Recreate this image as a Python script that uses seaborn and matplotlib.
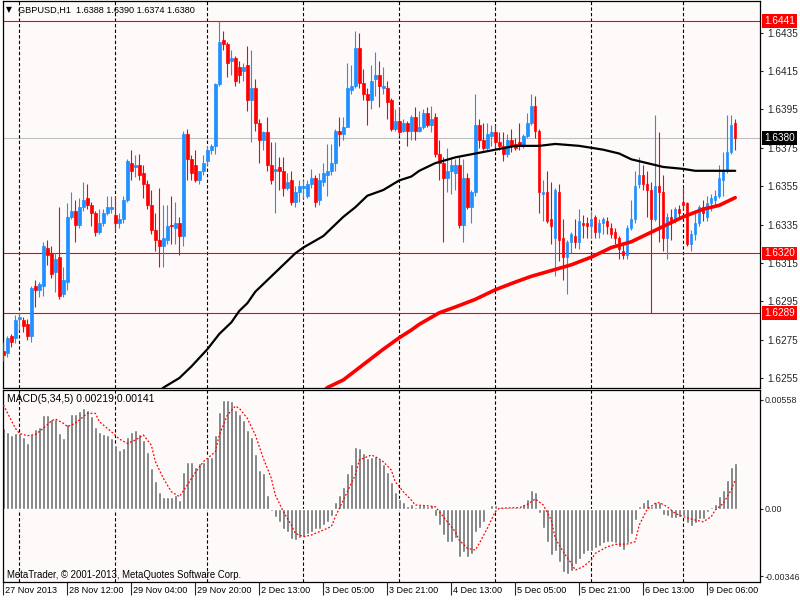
import numpy as np
import matplotlib
matplotlib.use("Agg")
import matplotlib.pyplot as plt
import matplotlib.transforms as mtransforms
import seaborn as sns

# --- GBPUSD H1 candles, bar 0 = oldest ---
open_ = [1.6269, 1.6268, 1.6277, 1.6276, 1.6286, 1.6285, 1.6283, 1.6277, 1.6303, 1.6301,
         1.6303, 1.6323, 1.6320, 1.6310, 1.6318, 1.6299, 1.6305, 1.6339, 1.6342, 1.6335,
         1.6344, 1.6349, 1.6345, 1.6341, 1.6331, 1.6336, 1.6341, 1.6343, 1.6340, 1.6336,
         1.6338, 1.6348, 1.6367, 1.6365, 1.6366, 1.6362, 1.6356, 1.6345, 1.6332, 1.6327,
         1.6324, 1.6327, 1.6335, 1.6333, 1.6336, 1.6329, 1.6382, 1.6369, 1.6366, 1.6358,
         1.6363, 1.6368, 1.6374, 1.6376, 1.6408, 1.6431, 1.6429, 1.6420, 1.6422, 1.6417,
         1.6415, 1.6418, 1.6400, 1.6406, 1.6388, 1.6379, 1.6383, 1.6366, 1.6363, 1.6365,
         1.6363, 1.6354, 1.6358, 1.6347, 1.6352, 1.6354, 1.6350, 1.6356, 1.6359, 1.6348,
         1.6357, 1.6361, 1.6363, 1.6367, 1.6384, 1.6382, 1.6386, 1.6405, 1.6407, 1.6427,
         1.6409, 1.6403, 1.6400, 1.6411, 1.6413, 1.6406, 1.6406, 1.6400, 1.6385, 1.6389,
         1.6384, 1.6388, 1.6384, 1.6391, 1.6384, 1.6386, 1.6393, 1.6387, 1.6391, 1.6372,
         1.6367, 1.6359, 1.6363, 1.6362, 1.6366, 1.6335, 1.6359, 1.6344, 1.6352, 1.6387,
         1.6379, 1.6375, 1.6381, 1.6383, 1.6378, 1.6376, 1.6372, 1.6379, 1.6377, 1.6378,
         1.6376, 1.6381, 1.6388, 1.6397, 1.6384, 1.6351, 1.6352, 1.6338, 1.6328, 1.6352,
         1.6328, 1.6318, 1.6326, 1.6329, 1.6326, 1.6336, 1.6336, 1.6334, 1.6339, 1.6331,
         1.6336, 1.6337, 1.6333, 1.6331, 1.6328, 1.6321, 1.6319, 1.6333, 1.6338, 1.6356,
         1.6361, 1.6356, 1.6353, 1.6338, 1.6355, 1.6352, 1.6328, 1.6339, 1.6337, 1.6343,
         1.6347, 1.6346, 1.6325, 1.6330, 1.6336, 1.6344, 1.6339, 1.6346, 1.6348, 1.6350,
         1.6358, 1.6363, 1.6373, 1.6388]
high = [1.6274, 1.6277, 1.6278, 1.6288, 1.6289, 1.6287, 1.6286, 1.6303, 1.6306, 1.6305,
        1.6326, 1.6327, 1.6324, 1.6320, 1.6344, 1.6313, 1.6346, 1.6352, 1.6348, 1.6349,
        1.6357, 1.6356, 1.6347, 1.6342, 1.6343, 1.6343, 1.6350, 1.6350, 1.6350, 1.6341,
        1.6350, 1.6369, 1.6374, 1.6371, 1.6372, 1.6366, 1.6358, 1.6353, 1.6341, 1.6354,
        1.6345, 1.6345, 1.6350, 1.6347, 1.6339, 1.6384, 1.6385, 1.6371, 1.6374, 1.6363,
        1.6371, 1.6376, 1.6377, 1.6409, 1.6441, 1.6436, 1.6430, 1.6426, 1.6423, 1.6420,
        1.6419, 1.6428, 1.6426, 1.6411, 1.6390, 1.6384, 1.6391, 1.6378, 1.6378, 1.6370,
        1.6370, 1.6362, 1.6363, 1.6355, 1.6358, 1.6358, 1.6358, 1.6364, 1.6361, 1.6362,
        1.6367, 1.6377, 1.6377, 1.6385, 1.6391, 1.6391, 1.6419, 1.6418, 1.6436, 1.6435,
        1.6416, 1.6406, 1.6418, 1.6425, 1.6420, 1.6417, 1.6410, 1.6401, 1.6395, 1.6396,
        1.6390, 1.6389, 1.6392, 1.6396, 1.6394, 1.6395, 1.6396, 1.6397, 1.6393, 1.6379,
        1.6370, 1.6375, 1.6370, 1.6369, 1.6370, 1.6369, 1.6362, 1.6353, 1.6403, 1.6390,
        1.6388, 1.6388, 1.6387, 1.6387, 1.6383, 1.6383, 1.6382, 1.6385, 1.6380, 1.6388,
        1.6382, 1.6393, 1.6403, 1.6402, 1.6385, 1.6358, 1.6363, 1.6357, 1.6354, 1.6356,
        1.6338, 1.6327, 1.6331, 1.6338, 1.6343, 1.6340, 1.6339, 1.6342, 1.6340, 1.6338,
        1.6339, 1.6339, 1.6336, 1.6333, 1.6329, 1.6326, 1.6335, 1.6348, 1.6363, 1.6370,
        1.6366, 1.6363, 1.6357, 1.6392, 1.6383, 1.6361, 1.6341, 1.6343, 1.6344, 1.6345,
        1.6354, 1.6347, 1.6332, 1.6341, 1.6345, 1.6348, 1.6350, 1.6351, 1.6353, 1.6366,
        1.6373, 1.6392, 1.6392, 1.6390]
low = [1.6264, 1.6266, 1.6271, 1.6273, 1.6280, 1.6279, 1.6275, 1.6274, 1.6292, 1.6297,
       1.6298, 1.6314, 1.6307, 1.6300, 1.6296, 1.6297, 1.6301, 1.6338, 1.6326, 1.6333,
       1.6342, 1.6343, 1.6334, 1.6329, 1.6330, 1.6334, 1.6340, 1.6341, 1.6331, 1.6333,
       1.6336, 1.6347, 1.6358, 1.6360, 1.6358, 1.6349, 1.6343, 1.6330, 1.6321, 1.6313,
       1.6313, 1.6325, 1.6325, 1.6325, 1.6319, 1.6324, 1.6358, 1.6358, 1.6357, 1.6356,
       1.6361, 1.6366, 1.6372, 1.6372, 1.6407, 1.6426, 1.6412, 1.6413, 1.6407, 1.6409,
       1.6410, 1.6394, 1.6378, 1.6384, 1.6367, 1.6374, 1.6363, 1.6356, 1.6341, 1.6353,
       1.6350, 1.6353, 1.6345, 1.6344, 1.6347, 1.6349, 1.6349, 1.6354, 1.6344, 1.6345,
       1.6355, 1.6350, 1.6361, 1.6363, 1.6376, 1.6379, 1.6386, 1.6403, 1.6406, 1.6406,
       1.6400, 1.6387, 1.6395, 1.6402, 1.6396, 1.6403, 1.6390, 1.6384, 1.6384, 1.6381,
       1.6383, 1.6376, 1.6379, 1.6379, 1.6383, 1.6385, 1.6386, 1.6383, 1.6370, 1.6358,
       1.6326, 1.6352, 1.6351, 1.6353, 1.6333, 1.6326, 1.6343, 1.6336, 1.6350, 1.6375,
       1.6374, 1.6374, 1.6376, 1.6375, 1.6374, 1.6368, 1.6370, 1.6373, 1.6374, 1.6374,
       1.6375, 1.6380, 1.6387, 1.6380, 1.6341, 1.6337, 1.6336, 1.6325, 1.6308, 1.6316,
       1.6306, 1.6299, 1.6320, 1.6323, 1.6322, 1.6328, 1.6328, 1.6328, 1.6328, 1.6328,
       1.6330, 1.6330, 1.6328, 1.6325, 1.6317, 1.6317, 1.6317, 1.6332, 1.6336, 1.6354,
       1.6353, 1.6339, 1.6289, 1.6337, 1.6326, 1.6321, 1.6317, 1.6327, 1.6336, 1.6338,
       1.6343, 1.6324, 1.6321, 1.6327, 1.6334, 1.6337, 1.6337, 1.6342, 1.6345, 1.6349,
       1.6350, 1.6362, 1.6372, 1.6374]
close_ = [1.6267, 1.6276, 1.6274, 1.6285, 1.6287, 1.6282, 1.6277, 1.6302, 1.6301, 1.6304,
          1.6324, 1.6319, 1.6309, 1.6317, 1.6298, 1.6306, 1.6339, 1.6342, 1.6335, 1.6344,
          1.6348, 1.6345, 1.6341, 1.6331, 1.6336, 1.6341, 1.6344, 1.6344, 1.6336, 1.6338,
          1.6348, 1.6368, 1.6363, 1.6366, 1.6361, 1.6356, 1.6345, 1.6332, 1.6327, 1.6324,
          1.6328, 1.6334, 1.6334, 1.6336, 1.6329, 1.6382, 1.6369, 1.6362, 1.6358, 1.6363,
          1.6367, 1.6374, 1.6376, 1.6408, 1.6430, 1.6429, 1.6419, 1.6422, 1.6410, 1.6413,
          1.6417, 1.6400, 1.6406, 1.6388, 1.6379, 1.6383, 1.6366, 1.6358, 1.6364, 1.6363,
          1.6354, 1.6357, 1.6347, 1.6352, 1.6355, 1.6355, 1.6356, 1.6359, 1.6347, 1.6358,
          1.6362, 1.6363, 1.6367, 1.6384, 1.6382, 1.6386, 1.6406, 1.6407, 1.6427, 1.6409,
          1.6403, 1.6400, 1.6410, 1.6413, 1.6407, 1.6407, 1.6399, 1.6385, 1.6389, 1.6383,
          1.6388, 1.6384, 1.6391, 1.6384, 1.6386, 1.6393, 1.6387, 1.6390, 1.6372, 1.6367,
          1.6359, 1.6363, 1.6366, 1.6366, 1.6335, 1.6359, 1.6344, 1.6352, 1.6387, 1.6379,
          1.6375, 1.6382, 1.6383, 1.6378, 1.6376, 1.6372, 1.6379, 1.6376, 1.6375, 1.6376,
          1.6381, 1.6388, 1.6397, 1.6384, 1.6352, 1.6352, 1.6337, 1.6334, 1.6353, 1.6327,
          1.6318, 1.6326, 1.6330, 1.6326, 1.6337, 1.6335, 1.6334, 1.6338, 1.6331, 1.6336,
          1.6338, 1.6334, 1.6330, 1.6328, 1.6322, 1.6319, 1.6333, 1.6338, 1.6355, 1.6361,
          1.6356, 1.6353, 1.6338, 1.6355, 1.6352, 1.6328, 1.6339, 1.6337, 1.6343, 1.6341,
          1.6345, 1.6325, 1.6330, 1.6336, 1.6344, 1.6341, 1.6346, 1.6349, 1.6350, 1.6359,
          1.6363, 1.6373, 1.6387, 1.6380]

# moving averages read at selected bars
ma_black_bar = [39, 40, 44, 47, 51, 54, 57, 59, 61, 63, 66, 68, 71, 73, 75, 80, 82, 85, 88, 91,
                95, 99, 102, 104, 108, 113, 118, 123, 128, 134, 138, 144, 150, 154, 157, 161,
                165, 170, 173, 183]
ma_black = [1.6248, 1.6250, 1.6255, 1.6261, 1.6270, 1.6278, 1.6284, 1.6290, 1.6294, 1.6300,
            1.6306, 1.6310, 1.6316, 1.6320, 1.6323, 1.6329, 1.6333, 1.6339, 1.6344, 1.6350,
            1.6353, 1.6358, 1.6360, 1.6363, 1.6367, 1.6370, 1.6372, 1.6374, 1.6376, 1.6376,
            1.6377, 1.6376, 1.6374, 1.6372, 1.6369, 1.6367, 1.6365, 1.6364, 1.6363, 1.6363]
ma_red_bar = [80, 81, 85, 90, 95, 99, 102, 104, 109, 113, 118, 123, 128, 132, 137, 142, 147,
              152, 157, 161, 164, 167, 170, 175, 179, 183]
ma_red = [1.6248, 1.6250, 1.6254, 1.6262, 1.6270, 1.6276, 1.6280, 1.6283, 1.6289, 1.6292,
          1.6296, 1.6301, 1.6305, 1.6308, 1.6311, 1.6314, 1.6318, 1.6323, 1.6326, 1.6330,
          1.6333, 1.6336, 1.6339, 1.6343, 1.6345, 1.6349]

# MACD(5,34,5) histogram, one value per bar
macd = [0.00412, 0.00395, 0.00378, 0.00386, 0.00386, 0.00369, 0.00335, 0.00381, 0.00407, 0.00419,
        0.00480, 0.00480, 0.00458, 0.00458, 0.00386, 0.00364, 0.00432, 0.00484, 0.00484, 0.00501,
        0.00515, 0.00506, 0.00475, 0.00419, 0.00395, 0.00381, 0.00378, 0.00364, 0.00326, 0.00301,
        0.00309, 0.00369, 0.00395, 0.00403, 0.00381, 0.00352, 0.00292, 0.00207, 0.00142, 0.00087,
        0.00058, 0.00058, 0.00058, 0.00070, 0.00044, 0.00186, 0.00238, 0.00241, 0.00215, 0.00236,
        0.00241, 0.00267, 0.00267, 0.00378, 0.00497, 0.00557, 0.00557, 0.00552, 0.00506, 0.00485,
        0.00455, 0.00403, 0.00369, 0.00280, 0.00198, 0.00181, 0.00070, -0.00010, -0.00041, -0.00067,
        -0.00104, -0.00118, -0.00156, -0.00161, -0.00152, -0.00144, -0.00132, -0.00118, -0.00104, -0.00106,
        -0.00084, -0.00067, -0.00038, 0.00036, 0.00070, 0.00113, 0.00181, 0.00229, 0.00315, 0.00309,
        0.00284, 0.00258, 0.00267, 0.00272, 0.00255, 0.00229, 0.00186, 0.00138, 0.00084, 0.00050,
        0.00036, 0.00015, 0.00026, 0.00010, 0.00019, 0.00019, 0.00015, 0.00019, -0.00036, -0.00084,
        -0.00135, -0.00173, -0.00173, -0.00152, -0.00246, -0.00221, -0.00246, -0.00234, -0.00118, -0.00097,
        -0.00070, -0.00005, 0.00019, 0.00019, 0.00010, 0.00007, 0.00010, 0.00007, 0.00007, 0.00010,
        0.00024, 0.00050, 0.00096, 0.00087, -0.00024, -0.00097, -0.00173, -0.00238, -0.00217, -0.00272,
        -0.00323, -0.00333, -0.00320, -0.00284, -0.00258, -0.00234, -0.00215, -0.00215, -0.00203, -0.00190,
        -0.00174, -0.00169, -0.00169, -0.00174, -0.00195, -0.00212, -0.00174, -0.00130, -0.00058, 0.00015,
        0.00036, 0.00050, 0.00015, 0.00036, 0.00036, -0.00032, -0.00036, -0.00046, -0.00046, -0.00041,
        -0.00038, -0.00075, -0.00089, -0.00075, -0.00053, -0.00053, -0.00019, 0.00010, 0.00022, 0.00067,
        0.00096, 0.00147, 0.00215, 0.00236]
signal_bar = [0, 3, 4, 6, 8, 10, 12, 13, 15, 16, 18, 21, 23, 24, 27, 29, 31, 33, 35, 37, 38, 40,
              42, 44, 45, 48, 50, 53, 54, 56, 58, 59, 61, 63, 65, 67, 68, 70, 72, 73, 75, 77, 79,
              82, 83, 85, 88, 89, 92, 93, 95, 97, 98, 100, 102, 103, 106, 108, 109, 111, 113, 114,
              116, 118, 119, 121, 123, 124, 127, 129, 131, 133, 135, 137, 138, 140, 142, 143, 145,
              147, 148, 151, 153, 156, 158, 159, 161, 163, 164, 166, 168, 170, 173, 175, 177, 178,
              180, 182, 183]
signal = [0.00532, 0.00412, 0.00386, 0.00374, 0.00381, 0.00412, 0.00450, 0.00460, 0.00438, 0.00421,
          0.00438, 0.00489, 0.00489, 0.00446, 0.00395, 0.00357, 0.00335, 0.00352, 0.00378, 0.00326,
          0.00241, 0.00156, 0.00087, 0.00062, 0.00091, 0.00186, 0.00241, 0.00292, 0.00378, 0.00480,
          0.00526, 0.00515, 0.00463, 0.00378, 0.00258, 0.00156, 0.00070, -0.00015, -0.00084, -0.00126,
          -0.00144, -0.00135, -0.00118, -0.00092, -0.00041, 0.00044, 0.00173, 0.00250, 0.00275, 0.00267,
          0.00241, 0.00198, 0.00138, 0.00087, 0.00044, 0.00019, 0.00015, 0.00010, -0.00015, -0.00067,
          -0.00118, -0.00161, -0.00203, -0.00212, -0.00178, -0.00101, -0.00015, 0.00002, 0.00005, 0.00005,
          0.00022, 0.00050, 0.00019, -0.00058, -0.00152, -0.00221, -0.00280, -0.00315, -0.00297, -0.00263,
          -0.00229, -0.00195, -0.00183, -0.00181, -0.00169, -0.00084, -0.00002, 0.00027, 0.00032, 0.00010,
          -0.00024, -0.00041, -0.00058, -0.00067, -0.00041, -0.00007, 0.00027, 0.00096, 0.00147]

# levels, axis labels, time axis
price_ticks = [1.6435, 1.6415, 1.6395, 1.6375, 1.6355, 1.6335, 1.6315, 1.6295, 1.6275, 1.6255]
red_levels = [1.6441, 1.6320, 1.6289]
last_price = 1.6380
macd_ticks = [0.00558, 0.0, -0.00346]
macd_tick_labels = ["0.00558", "0.00", "-0.00346"]
grid_bars = [4, 28, 51, 75, 99, 123, 147, 170]
time_bars = [0, 16, 32, 48, 64, 80, 96, 112, 128, 144, 160, 176]
time_labels = ["27 Nov 2013", "28 Nov 12:00", "29 Nov 04:00", "29 Nov 20:00", "2 Dec 13:00",
               "3 Dec 05:00", "3 Dec 21:00", "4 Dec 13:00", "5 Dec 05:00", "5 Dec 21:00",
               "6 Dec 13:00", "9 Dec 06:00"]

sns.set_style("white")
plt.rcParams['font.family'] = ['Liberation Sans', 'DejaVu Sans']

W, H = 800, 600
fig = plt.figure(figsize=(8, 6), dpi=100, facecolor='white')
ax1 = fig.add_axes([3 / W, 1 - 388 / H, 757 / W, 387 / H])
ax2 = fig.add_axes([3 / W, 1 - 582 / H, 757 / W, 192 / H])
for ax in (ax1, ax2):
    ax.set_facecolor('#FFFAFA')
    for s in ax.spines.values():
        s.set_color('black')
        s.set_linewidth(0.9)
    for b in grid_bars:
        ax.axvline(b, color='black', lw=0.8, ls=(0, (3, 2)), zorder=1)

# candles
bars = np.arange(len(close_))
o = np.array(open_)
c = np.array(close_)
colors = np.where(c >= o, '#1E90FF', '#FF0000')
ax1.vlines(bars, low, high, colors=colors, linewidth=0.8, zorder=3)
ax1.bar(bars, np.abs(c - o), bottom=np.minimum(o, c), width=0.62, color=colors,
        edgecolor=colors, linewidth=0.5, zorder=3)

# level lines
ax1.axhline(last_price, color='#C0C0C0', lw=0.8, zorder=0.5)
for lv in red_levels:
    ax1.axhline(lv, color='#FF0000', lw=0.8, zorder=2)

# moving averages
sns.lineplot(x=ma_black_bar, y=ma_black, ax=ax1, color='black', linewidth=1.6, zorder=4)
sns.lineplot(x=ma_red_bar, y=ma_red, ax=ax1, color='#FF0000', linewidth=2.6, zorder=4)

ax1.set_xlim(-0.1, 189.2)
ax1.set_ylim(1.62498, 1.64515)
ax1.set_xlabel('')
ax1.set_ylabel('')
ax1.set_xticks([])
ax1.yaxis.tick_right()
ax1.set_yticks(price_ticks)
ax1.set_yticklabels([f"{v:.4f}" for v in price_ticks])
ax1.tick_params(axis='y', length=2.5, width=0.8, pad=3, labelsize=7.2, direction='out', right=True)

ytr = ax1.get_yaxis_transform()
for lv in red_levels:
    ax1.text(1.0055, lv, f"{lv:.4f}", transform=ytr, ha='left', va='center', fontsize=7.2,
             color='white', zorder=6,
             bbox=dict(facecolor='#FF0000', edgecolor='none', boxstyle='square,pad=0.18'))
ax1.text(1.0055, last_price, f"{last_price:.4f}", transform=ytr, ha='left', va='center',
         fontsize=7.2, color='white', zorder=6,
         bbox=dict(facecolor='black', edgecolor='none', boxstyle='square,pad=0.18'))

# MACD panel
sns.barplot(x=bars, y=macd, native_scale=True, color='#6E6E6E', saturation=1, width=0.72,
            errorbar=None, ax=ax2, zorder=2)
sns.lineplot(x=signal_bar, y=signal, ax=ax2, color='#FF0000', linewidth=0.9,
             linestyle=(0, (1.5, 1.5)), zorder=3)
ax2.set_xlim(-0.1, 189.2)
ax2.set_ylim(-0.003759, 0.006087)
ax2.set_xlabel('')
ax2.set_ylabel('')
ax2.yaxis.tick_right()
ax2.set_yticks(macd_ticks)
ax2.set_yticklabels(macd_tick_labels)
ax2.tick_params(axis='y', length=2.5, width=0.8, pad=0.8, labelsize=6.4, direction='out', right=True)
ax2.set_xticks(time_bars)
ax2.set_xticklabels([])
ax2.tick_params(axis='x', length=9, width=0.8, direction='out', bottom=True)
xtr = ax2.get_xaxis_transform() + mtransforms.ScaledTranslation(1.5 / 72, 0, fig.dpi_scale_trans)
for b, lab in zip(time_bars, time_labels):
    ax2.text(b, -0.02, lab, transform=xtr, ha='left', va='top', fontsize=6.6, color='black',
             clip_on=False)

# header texts
fig.text(9 / W, 1 - 10 / H, "▼", fontsize=5.5, ha='center', va='center', color='black',
         family=['DejaVu Sans'])
fig.text(18 / W, 1 - 10 / H, "GBPUSD,H1  1.6388 1.6390 1.6374 1.6380", fontsize=6.6,
         ha='left', va='center', color='black')
fig.text(7 / W, 1 - 399 / H, "MACD(5,34,5) 0.00219 0.00141", fontsize=7.5, ha='left',
         va='center', color='black')
fig.text(7 / W, 1 - 575 / H, "MetaTrader, © 2001-2013, MetaQuotes Software Corp.", fontsize=6.9,
         ha='left', va='center', color='black')

fig.savefig("out.png", dpi=100, facecolor='white')
